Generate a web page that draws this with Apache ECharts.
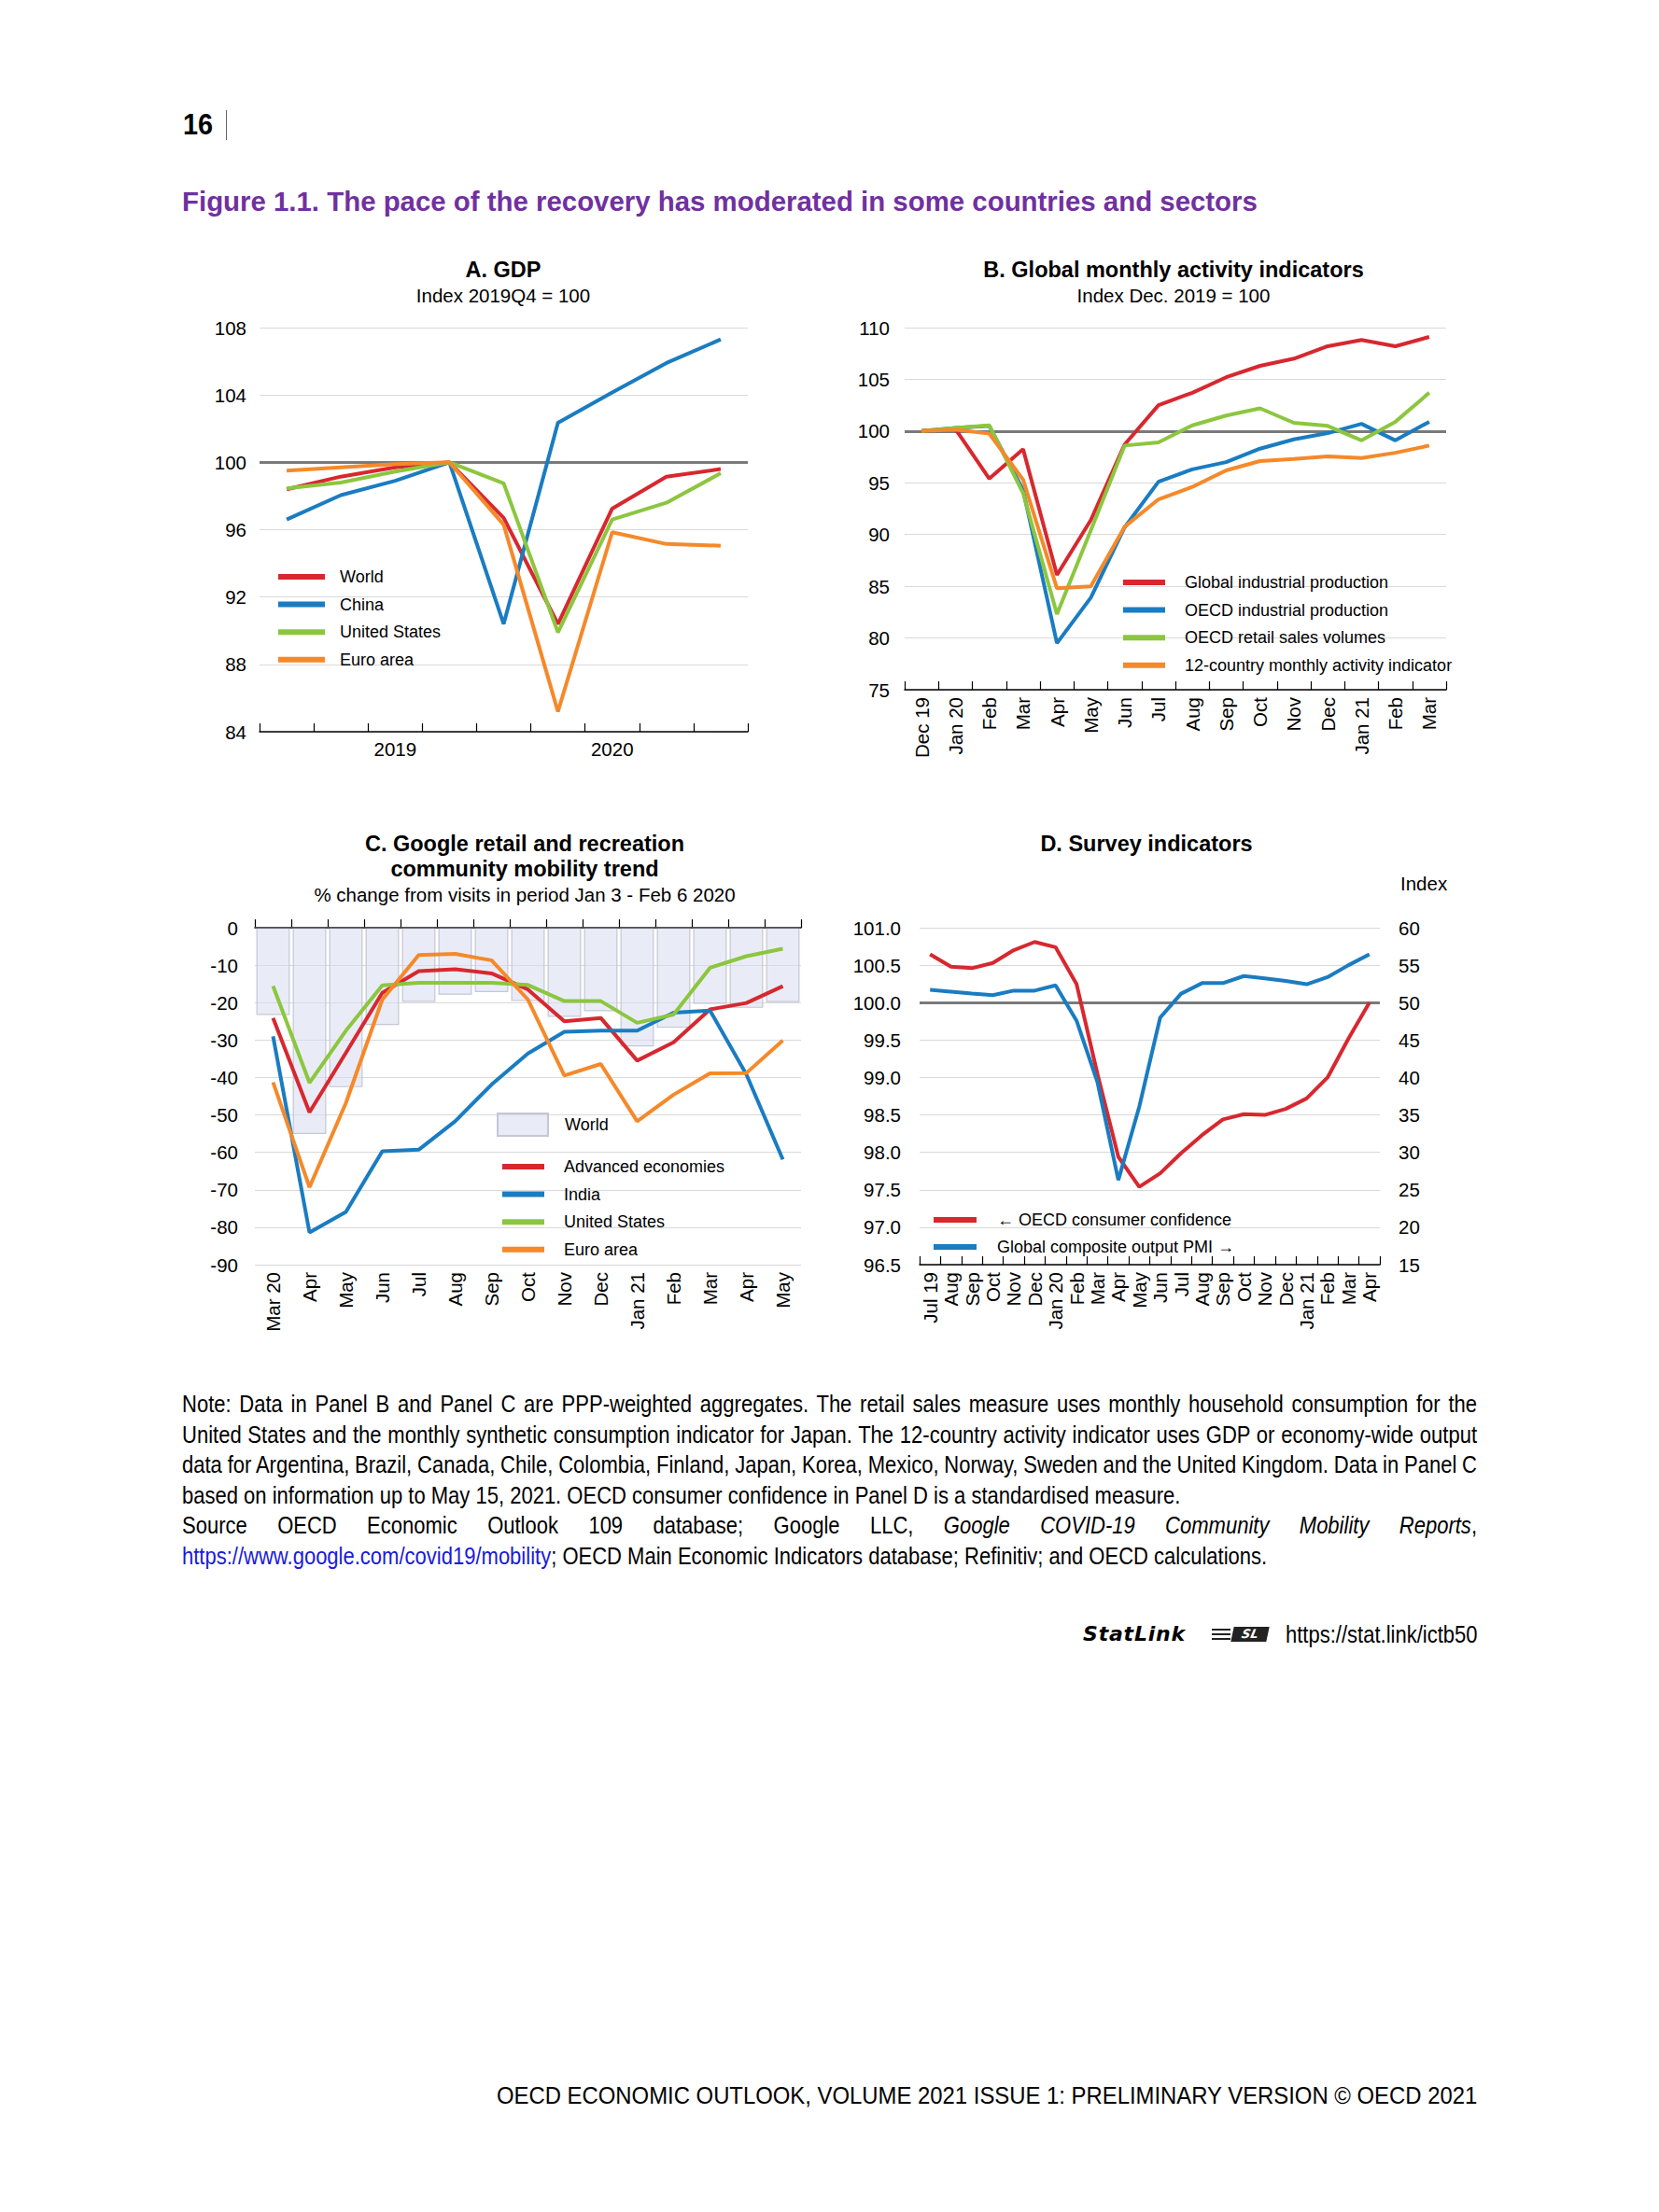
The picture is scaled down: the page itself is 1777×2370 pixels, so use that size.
<!DOCTYPE html>
<html><head><meta charset="utf-8">
<script src="https://cdn.jsdelivr.net/npm/echarts@6/dist/echarts.min.js"></script>
<style>
html,body{margin:0;padding:0;background:#fff;}
#page{position:relative;width:1777px;height:2370px;overflow:hidden;background:#fff;}
#chart{position:absolute;left:0;top:0;width:1777px;height:2370px;}
.t{position:absolute;white-space:nowrap;font-family:"Liberation Sans",Arial,sans-serif;color:#000;}
.nl{position:absolute;left:195px;width:1612px;height:32px;line-height:32px;font-size:25.6px;font-family:"Liberation Sans",Arial,sans-serif;color:#000;white-space:nowrap;transform:scaleX(0.86);transform-origin:0 0;}
a{color:#1a1adb;text-decoration:none;}
</style></head><body>
<div id="page">
<div id="chart"></div>
<div class="t" style="left:196px;top:115px;font-size:32px;font-weight:bold;line-height:36px;transform:scaleX(0.9);transform-origin:0 0;">16</div>
<div style="position:absolute;left:242px;top:118px;width:1px;height:32px;background:#666;"></div>
<div class="t" style="left:195px;top:197px;font-size:30px;font-weight:bold;line-height:38px;color:#7030a0;transform:scaleX(0.98);transform-origin:0 0;">Figure 1.1. The pace of the recovery has moderated in some countries and sectors</div>

<div class="nl" data-j="1" style="top:1488px;"><span>Note: Data in Panel B and Panel C are PPP-weighted aggregates. The retail sales measure uses monthly household consumption for the</span></div>
<div class="nl" data-j="1" style="top:1521px;"><span>United States and the monthly synthetic consumption indicator for Japan. The 12-country activity indicator uses GDP or economy-wide output</span></div>
<div class="nl" data-j="1" style="top:1553px;"><span>data for Argentina, Brazil, Canada, Chile, Colombia, Finland, Japan, Korea, Mexico, Norway, Sweden and the United Kingdom. Data in Panel C</span></div>
<div class="nl" style="top:1586px;"><span>based on information up to May 15, 2021. OECD consumer confidence in Panel D is a standardised measure.</span></div>
<div class="nl" data-j="1" style="top:1618px;"><span>Source OECD Economic Outlook 109 database; Google LLC, <i>Google COVID-19 Community Mobility Reports</i>,</span></div>
<div class="nl" style="top:1651px;"><span><a>https://www.google.com/covid19/mobility</a>; OECD Main Economic Indicators database; Refinitiv; and OECD calculations.</span></div>

<div class="t" style="left:1160px;top:1737px;font-size:22px;line-height:28px;font-style:italic;font-weight:bold;font-family:'DejaVu Sans',sans-serif;letter-spacing:0.8px;">StatLink</div>
<div style="position:absolute;left:1298px;top:1742px;width:62px;height:18px;">
  <div style="position:absolute;left:0;top:3px;width:20px;height:2px;background:#222;"></div>
  <div style="position:absolute;left:0;top:8px;width:20px;height:2px;background:#222;"></div>
  <div style="position:absolute;left:0;top:13px;width:20px;height:2px;background:#222;"></div>
  <div style="position:absolute;left:22px;top:1px;width:38px;height:16px;background:#222;transform:skewX(-12deg);color:#fff;font:bold italic 13px 'DejaVu Sans',sans-serif;line-height:16px;text-align:center;">SL</div>
</div>
<div class="t" style="left:1377px;top:1735px;font-size:25.6px;line-height:32px;transform:scaleX(0.86);transform-origin:0 0;">https://stat.link/ictb50</div>

<div class="t" id="footer" style="left:530px;top:2230px;font-size:25px;line-height:30px;transform-origin:0 0;">OECD ECONOMIC OUTLOOK, VOLUME 2021 ISSUE 1: PRELIMINARY VERSION © OECD 2021</div>
</div>
<script>
// ---------- Panel A: GDP (quarterly) ----------
const gdpQuarters = ['2019Q1','2019Q2','2019Q3','2019Q4','2020Q1','2020Q2','2020Q3','2020Q4','2021Q1'];
const gdpTickLabels = ['', '', '2019', '', '', '', '2020', '', ''];
const gdpWorld  = [98.4, 99.15, 99.7, 100, 96.7, 90.4, 97.25, 99.15, 99.6];
const gdpChina  = [96.6, 98.05, 98.9, 100, 90.4, 102.35, 104.15, 105.9, 107.3];
const gdpUS     = [98.45, 98.8, 99.45, 100, 98.75, 89.9, 96.6, 97.6, 99.35];
const gdpEuro   = [99.5, 99.7, 99.9, 100, 96.3, 85.2, 95.85, 95.15, 95.05];

// ---------- Panel B: global monthly activity ----------
const actMonths = ['2019-12','2020-01','2020-02','2020-03','2020-04','2020-05','2020-06','2020-07','2020-08','2020-09','2020-10','2020-11','2020-12','2021-01','2021-02','2021-03'];
const actTickLabels = ['Dec 19','Jan 20','Feb','Mar','Apr','May','Jun','Jul','Aug','Sep','Oct','Nov','Dec','Jan 21','Feb','Mar'];
const globalIP   = [100, 100.2, 95.4, 98.25, 86.1, 91.4, 98.7, 102.5, 103.7, 105.2, 106.3, 107.0, 108.2, 108.8, 108.2, 109.1];
const oecdIP     = [100, 100.3, 100.5, 94.3, 79.5, 83.9, 90.7, 95.1, 96.3, 97.0, 98.3, 99.2, 99.8, 100.7, 99.1, 100.9];
const oecdRetail = [100, 100.3, 100.55, 94.0, 82.3, 90.4, 98.6, 98.9, 100.55, 101.5, 102.2, 100.8, 100.5, 99.1, 100.9, 103.7];
const country12  = [100, 100.15, 99.75, 95.3, 84.8, 85.0, 90.75, 93.4, 94.6, 96.2, 97.1, 97.3, 97.55, 97.4, 97.9, 98.6];

// ---------- Panel C: Google mobility ----------
const mobMonths = ['2020-03','2020-04','2020-05','2020-06','2020-07','2020-08','2020-09','2020-10','2020-11','2020-12','2021-01','2021-02','2021-03','2021-04','2021-05'];
const mobTickLabels = ['Mar 20','Apr','May','Jun','Jul','Aug','Sep','Oct','Nov','Dec','Jan 21','Feb','Mar','Apr','May'];
const mobWorld    = [-23.3, -55.1, -42.6, -26.0, -19.8, -17.9, -17.2, -19.6, -23.8, -22.3, -31.7, -26.7, -20.3, -21.4, -19.9];
const mobAdvanced = [-24.1, -49.3, -33.4, -17.4, -11.6, -11.1, -12.2, -16.5, -25.0, -24.1, -35.5, -30.6, -21.8, -20.1, -15.6];
const mobIndia    = [-29.0, -81.4, -75.9, -59.7, -59.3, -51.7, -41.9, -33.6, -27.8, -27.5, -27.5, -22.7, -22.1, -39.2, -61.9];
const mobUS       = [-15.6, -41.4, -27.5, -15.4, -14.7, -14.7, -14.7, -15.3, -19.6, -19.6, -25.4, -23.2, -10.7, -7.6, -5.6];
const mobEuro     = [-41.3, -69.3, -46.8, -19.2, -7.3, -7.0, -8.7, -19.2, -39.5, -36.4, -51.7, -44.6, -38.9, -38.8, -30.1];

// ---------- Panel D: survey indicators ----------
const survMonths = ['2019-07','2019-08','2019-09','2019-10','2019-11','2019-12','2020-01','2020-02','2020-03','2020-04','2020-05','2020-06','2020-07','2020-08','2020-09','2020-10','2020-11','2020-12','2021-01','2021-02','2021-03','2021-04'];
const survTickLabels = ['Jul 19','Aug','Sep','Oct','Nov','Dec','Jan 20','Feb','Mar','Apr','May','Jun','Jul','Aug','Sep','Oct','Nov','Dec','Jan 21','Feb','Mar','Apr'];
const consumerConf = [100.645, 100.48, 100.46, 100.53, 100.70, 100.81, 100.74, 100.25, 99.05, 97.94, 97.54, 97.72, 97.99, 98.23, 98.44, 98.51, 98.50, 98.58, 98.72, 99.0, 99.52, 100.0];
const compositePMI = [51.7, 51.45, 51.2, 51.0, 51.6, 51.6, 52.3, 47.6, 39.4, 26.3, 36.1, 48.0, 51.2, 52.6, 52.6, 53.55, 53.25, 52.9, 52.45, 53.4, 55.0, 56.45];

// ---------- text layout helpers (justified note lines, right-aligned footer) ----------
(function () {
  const SCALE = 0.86, TARGET = 1387 / SCALE;
  document.querySelectorAll('.nl[data-j]').forEach(function (el) {
    const span = el.firstElementChild;
    const natural = span.getBoundingClientRect().width / SCALE;
    const spaces = (span.textContent.match(/ /g) || []).length;
    if (spaces > 0) span.style.wordSpacing = ((TARGET - natural) / spaces) + 'px';
  });
  const f = document.getElementById('footer');
  const sx = 0.955;
  f.style.transform = 'scaleX(' + sx + ')';
  const w = f.getBoundingClientRect().width;
  f.style.left = (1582 - w) + 'px';
})();

// ---------- styling ----------
const RED = '#d7282f', BLUE = '#1a7cc1', GREEN = '#8cc63f', ORANGE = '#f5892a', GREY = '#7a7a7a';
const FONT = '"Liberation Sans", Arial, sans-serif';
const TICK_FS = 20.5, LEG_FS = 18;

function catAxis(gridIndex, data, labels, rotate) {
  return {
    type: 'category', gridIndex: gridIndex, data: data, boundaryGap: true,
    axisLine: {show: true, lineStyle: {color: '#000', width: 1.5}},
    axisTick: {show: true, inside: true, length: 9, interval: 0, lineStyle: {color: '#000', width: 1.2}},
    axisLabel: {interval: 0, rotate: rotate ? 90 : 0, margin: 8, color: '#000', fontSize: TICK_FS, fontFamily: FONT,
      formatter: function (v, i) { return labels[i]; }},
    splitLine: {show: false}
  };
}
function valAxis(gridIndex, min, max, interval, opts) {
  opts = opts || {};
  return {
    type: 'value', gridIndex: gridIndex, min: min, max: max, interval: interval,
    position: opts.position || 'left',
    axisLine: {show: false}, axisTick: {show: false},
    axisLabel: {color: '#000', fontSize: TICK_FS, fontFamily: FONT, margin: opts.margin || 15,
      formatter: opts.formatter},
    splitLine: {show: opts.split !== false, lineStyle: {color: '#d9d9d9', width: 1}}
  };
}
function line(name, xi, yi, data, color, extra) {
  const s = {name: name, type: 'line', xAxisIndex: xi, yAxisIndex: yi, data: data, showSymbol: false,
    symbol: 'none', lineStyle: {width: 4, color: color, cap: 'butt'}, itemStyle: {color: color}, z: 3};
  return Object.assign(s, extra || {});
}
function refLine(v) {
  return {silent: true, symbol: 'none', label: {show: false}, z: 2,
    lineStyle: {color: GREY, width: 3, type: 'solid'}, data: [{yAxis: v}]};
}
function legend(names, left, top, w, h, gap, pad) {
  return {data: names, orient: 'vertical', left: left, top: top, itemWidth: w, itemHeight: h, itemGap: gap,
    icon: 'rect', selectedMode: false, padding: 0,
    formatter: function (n) { return n.split('|')[1]; },
    textStyle: {color: '#000', fontSize: LEG_FS, fontFamily: FONT, padding: [0, 0, 0, pad]}};
}
function ttl(text, x, top, size, bold) {
  return {text: text, left: x, top: top, textAlign: 'center', padding: 0,
    textStyle: {fontSize: size, fontWeight: bold ? 'bold' : 'normal', color: '#000', fontFamily: FONT, lineHeight: size + 6}};
}

const chart = echarts.init(document.getElementById('chart'), null, {renderer: 'svg'});
chart.setOption({
  animation: false,
  backgroundColor: 'transparent',
  textStyle: {fontFamily: FONT, color: '#000'},
  title: [
    ttl('A. GDP', 539, 274, 23.5, true),
    ttl('Index 2019Q4 = 100', 539, 303, 20.5, false),
    ttl('B. Global monthly activity indicators', 1257, 274, 23.5, true),
    ttl('Index Dec. 2019 = 100', 1257, 303, 20.5, false),
    ttl('C. Google retail and recreation', 562, 889, 23.5, true),
    ttl('community mobility trend', 562, 916, 23.5, true),
    ttl('% change from visits in period Jan 3 - Feb 6 2020', 562, 945, 20.5, false),
    ttl('D. Survey indicators', 1228, 889, 23.5, true),
    {text: 'Index', left: 1500, top: 936, padding: 0, textStyle: {fontSize: 20.5, fontWeight: 'normal', color: '#000', fontFamily: FONT}}
  ],
  legend: [
    legend(['A|World', 'A|China', 'A|United States', 'A|Euro area'], 298, 609, 50, 6, 11.6, 11),
    legend(['B|Global industrial production', 'B|OECD industrial production', 'B|OECD retail sales volumes', 'B|12-country monthly activity indicator'], 1203, 615, 45, 6, 11.6, 16),
    legend(['C|World'], 532, 1192, 54, 24, 10, 13),
    legend(['C|Advanced economies', 'C|India', 'C|United States', 'C|Euro area'], 538, 1241, 45, 6, 11.6, 16),
    legend(['D|\u2190 OECD consumer confidence', 'D|Global composite output PMI \u2192'], 1000, 1298, 46, 6, 11, 17)
  ],
  grid: [
    {left: 278, top: 351, width: 523, height: 433},
    {left: 969, top: 351, width: 580, height: 388},
    {left: 273, top: 994, width: 585, height: 361},
    {left: 985, top: 994, width: 493, height: 361}
  ],
  xAxis: [
    catAxis(0, gdpQuarters, gdpTickLabels, false),
    catAxis(1, actMonths, actTickLabels, true),
    catAxis(2, mobMonths, mobTickLabels, true),
    catAxis(3, survMonths, survTickLabels, true)
  ],
  yAxis: [
    valAxis(0, 84, 108, 4, {margin: 14}),
    valAxis(1, 75, 110, 5, {margin: 16}),
    valAxis(2, -90, 0, 10, {margin: 18}),
    valAxis(3, 96.5, 101, 0.5, {margin: 20, formatter: function (v) { return v.toFixed(1); }}),
    valAxis(3, 15, 60, 5, {position: 'right', margin: 20, split: false})
  ],
  series: [
    line('A|World', 0, 0, gdpWorld, RED, {markLine: refLine(100)}),
    line('A|China', 0, 0, gdpChina, BLUE),
    line('A|United States', 0, 0, gdpUS, GREEN),
    line('A|Euro area', 0, 0, gdpEuro, ORANGE),

    line('B|Global industrial production', 1, 1, globalIP, RED, {markLine: refLine(100)}),
    line('B|OECD industrial production', 1, 1, oecdIP, BLUE),
    line('B|OECD retail sales volumes', 1, 1, oecdRetail, GREEN),
    line('B|12-country monthly activity indicator', 1, 1, country12, ORANGE),

    {name: 'C|World', type: 'bar', xAxisIndex: 2, yAxisIndex: 2, data: mobWorld, barCategoryGap: '8%', z: 1,
     itemStyle: {color: 'rgba(215,220,240,0.55)', borderColor: '#c4c7d4', borderWidth: 1.2},
     markLine: {silent: true, symbol: 'none', label: {show: false}, lineStyle: {color: '#555', width: 1.5, type: 'solid'}, data: [{yAxis: 0}]}},
    line('C|Advanced economies', 2, 2, mobAdvanced, RED),
    line('C|India', 2, 2, mobIndia, BLUE),
    line('C|United States', 2, 2, mobUS, GREEN),
    line('C|Euro area', 2, 2, mobEuro, ORANGE),

    line('D|\u2190 OECD consumer confidence', 3, 3, consumerConf, RED, {markLine: refLine(100)}),
    line('D|Global composite output PMI \u2192', 3, 4, compositePMI, BLUE)
  ]
});
</script>
</body></html>
